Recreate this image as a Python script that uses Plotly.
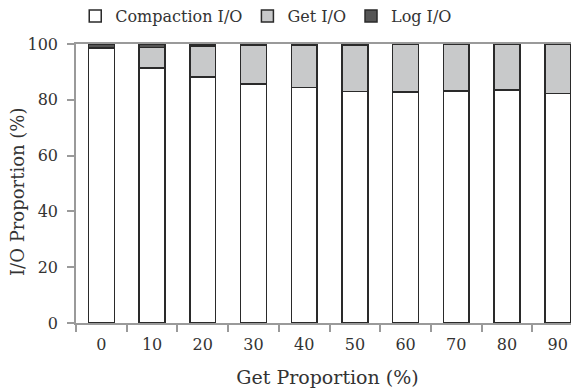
import plotly.graph_objects as go

categories = ["0", "10", "20", "30", "40", "50", "60", "70", "80", "90"]
compaction_io = [98.3, 91.4, 88.1, 85.7, 84.5, 83.0, 82.8, 83.2, 83.6, 82.3]
log_io = [1.4, 1.2, 0.8, 0.5, 0.4, 0.3, 0.2, 0.1, 0.1, 0.1]
get_io = [round(100 - c - l, 2) for c, l in zip(compaction_io, log_io)]
y_ticks = [0, 20, 40, 60, 80, 100]

FONT = "DejaVu Serif"
AX = "#9a9a9a"
EDGE = "#2a2a2a"

fig = go.Figure()
for name, vals, color in [("Compaction I/O", compaction_io, "#ffffff"),
                          ("Get I/O", get_io, "#c8c9ca"),
                          ("Log I/O", log_io, "#555555")]:
    fig.add_trace(go.Bar(x=categories, y=vals, name=name,
                         marker=dict(color=color, line=dict(color=EDGE, width=1.5))))

fig.update_layout(
    width=579, height=391,
    barmode="stack", bargap=0.49,
    plot_bgcolor="white", paper_bgcolor="white",
    margin=dict(l=68, r=8, t=36, b=76, autoexpand=False),
    font=dict(family=FONT, size=16, color="#333333"),
    legend=dict(orientation="h", xref="container", yref="paper",
                x=0.446, xanchor="center", y=1.1, yanchor="middle",
                font=dict(size=16), itemwidth=30, traceorder="normal"),
    xaxis=dict(type="category", range=[-0.5, 9.42], tickson="boundaries",
               ticks="outside", ticklen=7, tickcolor=AX, tickwidth=1.5,
               showline=True, linecolor=AX, linewidth=1.5, mirror=True,
               showgrid=False, ticklabelstandoff=6,
               title=dict(text="Get Proportion (%)", standoff=18)),
    yaxis=dict(range=[0, 100], tickvals=y_ticks, ticks="outside", ticklen=7,
               tickcolor=AX, tickwidth=1.5, showline=True, linecolor=AX,
               linewidth=1.5, showgrid=False, zeroline=False,
               ticklabelstandoff=6),
    annotations=[dict(text="I/O Proportion (%)", textangle=-90,
                      xref="paper", yref="paper", x=-0.115, y=0.47,
                      xanchor="center", yanchor="middle", showarrow=False,
                      font=dict(family=FONT, size=18, color="#333333"))],
)

fig.write_html("out.html")
